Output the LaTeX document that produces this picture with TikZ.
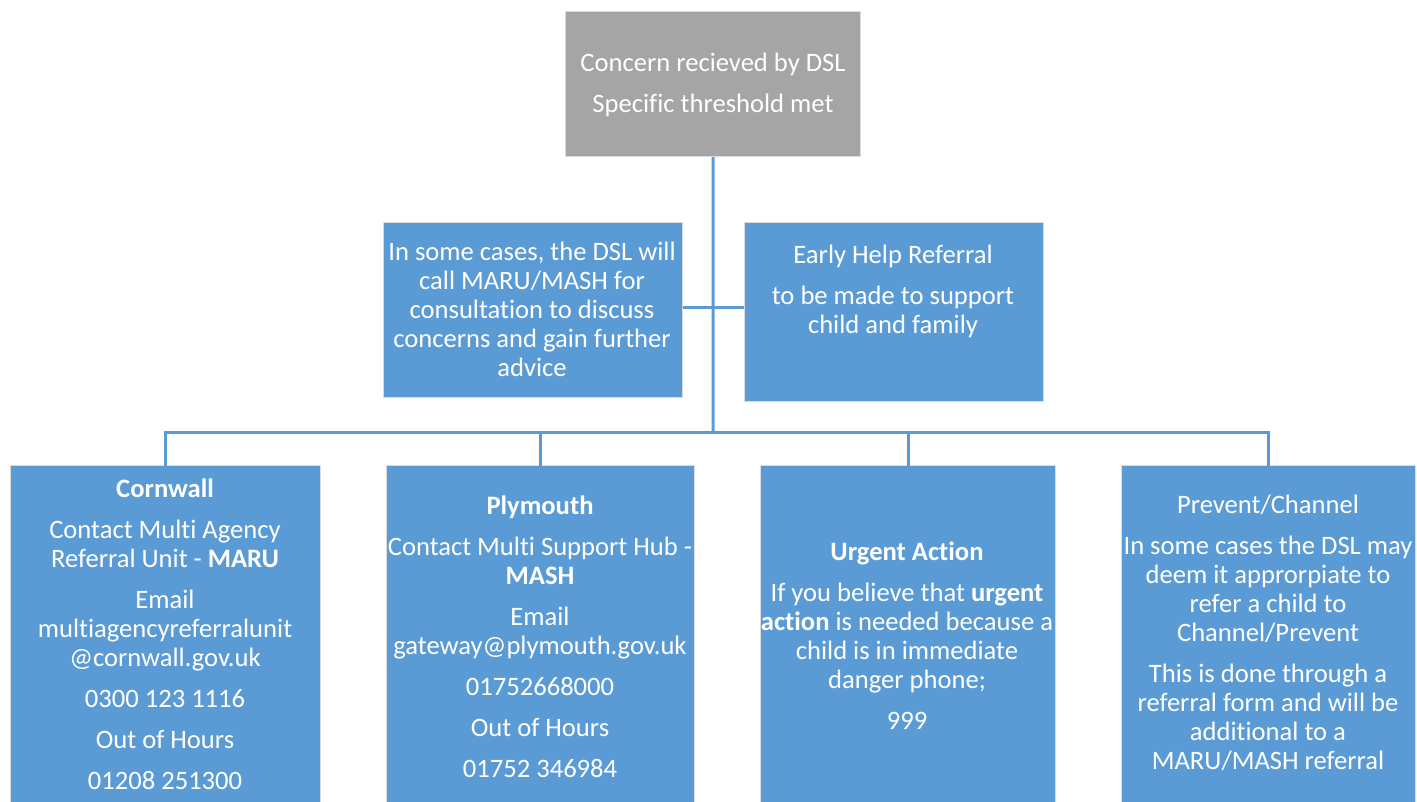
\documentclass[tikz,border=0pt]{standalone}
\usepackage{fontspec}
\setmainfont{Carlito}[Ligatures=NoCommon]
\definecolor{boxblue}{HTML}{5B9BD5}
\definecolor{boxgray}{HTML}{A5A5A5}
\definecolor{edgegray}{HTML}{DCDCDC}
\tikzset{
  box/.style={draw=edgegray, line width=1.2pt, fill=boxblue, inner sep=0pt, anchor=north west},
  txt/.style={text=white, align=center, inner sep=0pt, font=\fontsize{26.6}{29}\selectfont},
  link/.style={draw=boxblue, line width=3pt},
}
\begin{document}
\begin{tikzpicture}[x=1pt,y=-1pt]
\useasboundingbox (0,0) rectangle (1417,802);
% boxes
\node[box, fill=boxgray, minimum width=295pt, minimum height=145pt] (top) at (565,11) {};
\node[box, minimum width=299pt, minimum height=175pt] (ml) at (383,222) {};
\node[box, minimum width=299pt, minimum height=179pt] (mr) at (744,222) {};
\node[box, minimum width=310pt, minimum height=360pt] (corn) at (10,465) {};
\node[box, minimum width=308pt, minimum height=360pt] (plym) at (386,465) {};
\node[box, minimum width=295pt, minimum height=360pt] (urg) at (760,465) {};
\node[box, minimum width=294pt, minimum height=360pt] (prev) at (1121,465) {};
% connectors
\coordinate (hub) at (713,432);
\coordinate (mid) at (713,308);
\draw[link] (top.south) -- (hub);
\draw[link] (ml.east |- mid) -- (mr.west |- mid);
\draw[link] ([yshift=-2pt]corn.north) -- (corn.north |- hub) -- (prev.north |- hub) -- ([yshift=-2pt]prev.north);
\draw[link] ([yshift=-2pt]plym.north) -- (plym.north |- hub);
\draw[link] ([yshift=-2pt]urg.north) -- (urg.north |- hub);
% texts
\node[txt] (ttop) at (713,85) {Concern recieved by DSL\\[12pt]Specific threshold met};
\node[txt] (tml) at (532,309) {In some cases, the DSL will\\call MARU/MASH for\\consultation to discuss\\concerns and gain further\\advice};
\node[txt] (tmr) at (893,291) {Early Help Referral\\[12pt]to be made to support\\child and family};
\node[txt] (tcorn) at (165,634) {\textbf{Cornwall}\\[12pt]Contact Multi Agency\\Referral Unit - \textbf{MARU}\\[12pt]Email\\multiagencyreferralunit\\@cornwall.gov.uk\\[12pt]0300 123 1116\\[12pt]Out of Hours\\[12pt]01208 251300};
\node[txt] (tplym) at (540,637) {\textbf{Plymouth}\\[12pt]Contact Multi Support Hub -\\\textbf{MASH}\\[12pt]Email\\gateway@plymouth.gov.uk\\[12pt]01752668000\\[12pt]Out of Hours\\[12pt]01752 346984};
\node[txt] (turg) at (907,636) {\textbf{Urgent Action}\\[12pt]If you believe that \textbf{urgent}\\\textbf{action} is needed because a\\child is in immediate\\danger phone;\\[12pt]999};
\node[txt] (tprev) at (1268,633) {Prevent/Channel\\[12pt]In some cases the DSL may\\deem it approrpiate to\\refer a child to\\Channel/Prevent\\[12pt]This is done through a\\referral form and will be\\additional to a\\MARU/MASH referral};
\end{tikzpicture}
\end{document}
